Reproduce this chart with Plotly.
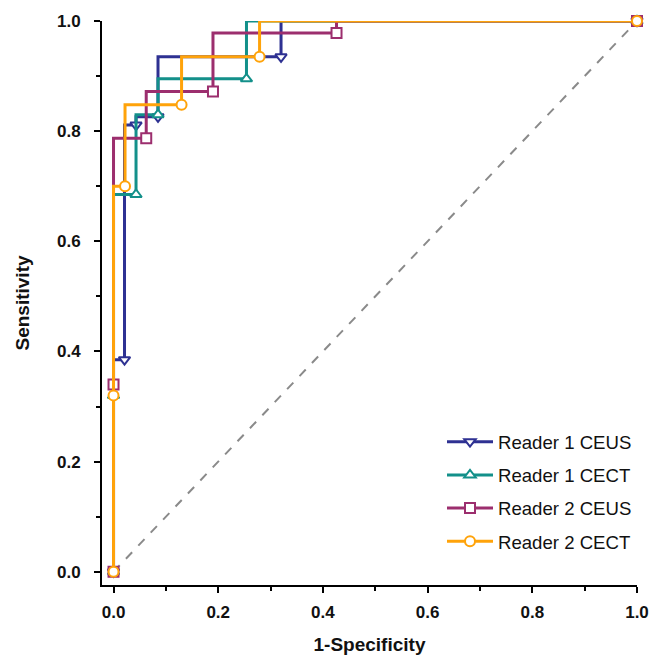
import plotly.graph_objects as go

# ROC operating points (1-Specificity, Sensitivity)
r1_ceus_x = [0.0, 0.021, 0.043, 0.085, 0.32, 1.0]
r1_ceus_y = [0.0, 0.385, 0.811, 0.826, 0.935, 1.0]
r1_cect_x = [0.0, 0.0, 0.043, 0.085, 0.254, 1.0]
r1_cect_y = [0.0, 0.32, 0.685, 0.83, 0.895, 1.0]
r2_ceus_x = [0.0, 0.0, 0.0625, 0.19, 0.426, 1.0]
r2_ceus_y = [0.0, 0.34, 0.787, 0.872, 0.978, 1.0]
r2_cect_x = [0.0, 0.0, 0.022, 0.13, 0.279, 1.0]
r2_cect_y = [0.0, 0.32, 0.70, 0.848, 0.935, 1.0]

names = ["Reader 1 CEUS", "Reader 1 CECT", "Reader 2 CEUS", "Reader 2 CECT"]
colors = ["#2E3192", "#13908A", "#9C2E6E", "#FFA30A"]
symbols = ["triangle-down", "triangle-up", "square", "circle"]
xs = [r1_ceus_x, r1_cect_x, r2_ceus_x, r2_cect_x]
ys = [r1_ceus_y, r1_cect_y, r2_ceus_y, r2_cect_y]

tick_vals = [0, 0.2, 0.4, 0.6, 0.8, 1.0]
tick_text = ["<b>0.0</b>", "<b>0.2</b>", "<b>0.4</b>", "<b>0.6</b>", "<b>0.8</b>", "<b>1.0</b>"]
minor_vals = [0.1, 0.3, 0.5, 0.7, 0.9]

fig = go.Figure()
fig.add_trace(go.Scatter(x=[0, 1], y=[0, 1], mode="lines",
                         line=dict(color="#8A8A8A", width=2, dash="dash"),
                         showlegend=False, hoverinfo="skip"))
for i in range(4):
    fig.add_trace(go.Scatter(
        x=xs[i], y=ys[i], mode="lines+markers", name=names[i],
        legendgroup=names[i],
        line=dict(color=colors[i], width=3, shape="vh"),
        marker=dict(symbol=symbols[i], size=10, color="white",
                    line=dict(color=colors[i], width=2)),
        cliponaxis=False))

axis_font = dict(family="Arial, Liberation Sans, sans-serif", size=17, color="#111")
title_font = dict(family="Arial, Liberation Sans, sans-serif", size=19, color="#111")
fig.update_layout(
    width=656, height=647,
    margin=dict(l=94, r=27, t=13, b=70),
    plot_bgcolor="white", paper_bgcolor="white",
    font=dict(family="Arial, Liberation Sans, sans-serif", color="#111"),
    legend=dict(x=1.0, y=0.287, xanchor="right", yanchor="top",
                font=dict(size=18.6, color="#111"), tracegroupgap=6,
                itemwidth=46, bgcolor="rgba(0,0,0,0)"),
    xaxis=dict(range=[-0.022, 1.0], showline=True, linecolor="black", linewidth=2,
               automargin="left",
               showgrid=False, zeroline=False, ticks="outside", ticklen=6, tickwidth=2,
               tickcolor="black", tickvals=tick_vals, ticktext=tick_text,
               tickfont=axis_font, ticklabelstandoff=5,
               minor=dict(tickvals=minor_vals, ticks="outside", ticklen=4,
                          tickwidth=2, tickcolor="black"),
               title=dict(text="<b>1-Specificity</b>", font=title_font, standoff=16)),
    yaxis=dict(range=[-0.024, 1.0], showline=True, linecolor="black", linewidth=2,
               automargin="left",
               showgrid=False, zeroline=False, ticks="outside", ticklen=6, tickwidth=2,
               tickcolor="black", tickvals=tick_vals, ticktext=tick_text,
               tickfont=axis_font, ticklabelstandoff=10,
               minor=dict(tickvals=minor_vals, ticks="outside", ticklen=4,
                          tickwidth=2, tickcolor="black"),
               title=dict(text="<b>Sensitivity</b>", font=title_font, standoff=22)),
)
fig.write_html("out.html")
